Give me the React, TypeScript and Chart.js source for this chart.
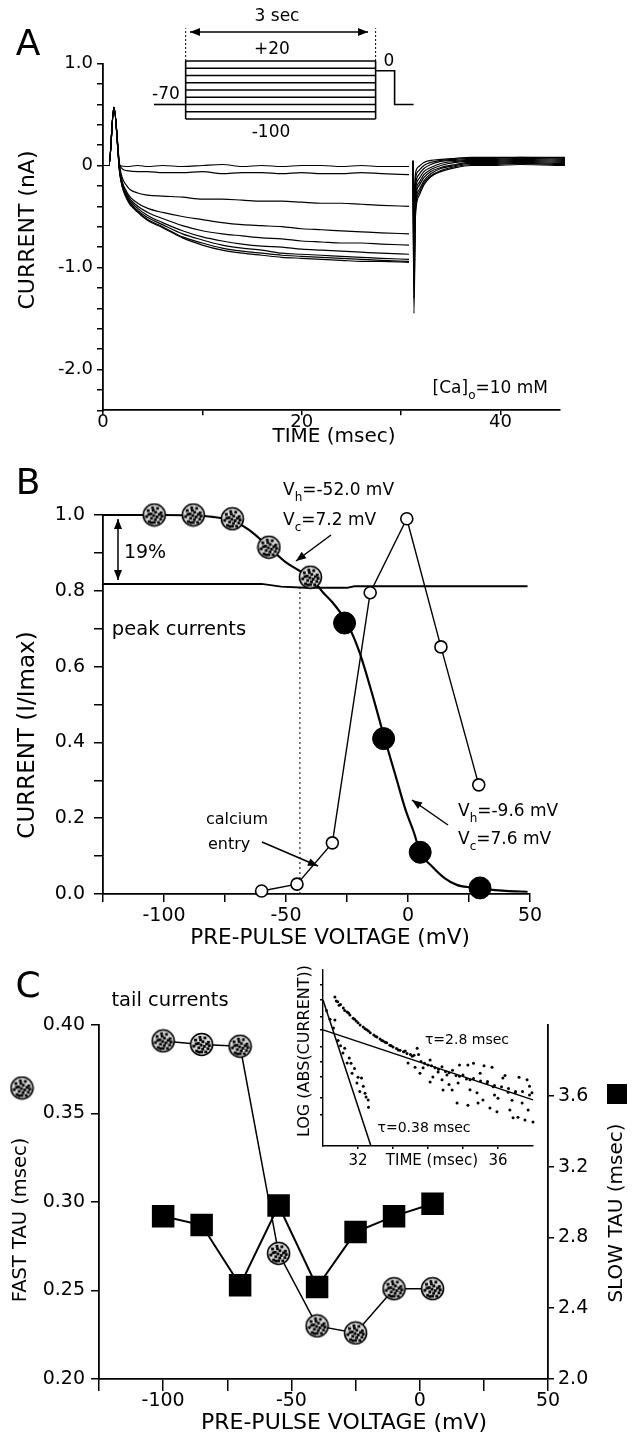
import { useEffect, useRef } from 'react';
import { Chart, registerables } from 'chart.js';
Chart.register(...registerables);

const W = 633;
const H = 1442;
const FONT = "'DejaVu Sans', 'Liberation Sans', sans-serif";
Chart.defaults.font.family = FONT;
Chart.defaults.color = '#000';

// ---------------- Panel A : current traces ----------------
const A_T = [0, 0.6, 1.1, 1.7, 2.4, 3.5, 4.5, 6, 8, 10, 12, 14, 16, 18, 20, 22, 24, 26, 28, 30.8];
const A_TRACES = [
  [0, 0, 0.57, 0.0, -0.01, 0.0, -0.01, 0.0, -0.01, 0.0, 0.01, -0.01, 0.0, -0.01, 0.0, 0.0, -0.01, 0.0, -0.01, -0.01],
  [0, 0, 0.57, 0.0, -0.05, -0.06, -0.06, -0.07, -0.07, -0.06, -0.08, -0.07, -0.07, -0.08, -0.07, -0.08, -0.08, -0.07, -0.08, -0.09],
  [0, 0, 0.57, -0.02, -0.2, -0.27, -0.29, -0.3, -0.31, -0.33, -0.33, -0.34, -0.35, -0.35, -0.36, -0.37, -0.37, -0.38, -0.39, -0.4],
  [0, 0, 0.57, -0.05, -0.26, -0.37, -0.42, -0.46, -0.5, -0.53, -0.56, -0.58, -0.59, -0.6, -0.62, -0.63, -0.64, -0.65, -0.66, -0.67],
  [0, 0, 0.57, -0.06, -0.28, -0.4, -0.46, -0.52, -0.59, -0.64, -0.67, -0.69, -0.71, -0.72, -0.74, -0.75, -0.76, -0.76, -0.77, -0.78],
  [0, 0, 0.57, -0.07, -0.3, -0.42, -0.49, -0.56, -0.64, -0.7, -0.74, -0.77, -0.79, -0.8, -0.82, -0.83, -0.84, -0.85, -0.86, -0.87],
  [0, 0, 0.57, -0.08, -0.31, -0.44, -0.51, -0.58, -0.67, -0.73, -0.78, -0.81, -0.83, -0.86, -0.87, -0.88, -0.89, -0.9, -0.91, -0.92],
  [0, 0, 0.57, -0.08, -0.32, -0.45, -0.53, -0.6, -0.7, -0.76, -0.81, -0.84, -0.86, -0.88, -0.89, -0.9, -0.91, -0.92, -0.93, -0.94],
  [0, 0, 0.57, -0.09, -0.33, -0.46, -0.54, -0.61, -0.71, -0.78, -0.83, -0.86, -0.88, -0.9, -0.91, -0.92, -0.93, -0.94, -0.94, -0.95],
];
const A_TAIL_T = [31.2, 31.3, 31.45, 31.8, 32.3, 33, 34, 35.5, 37, 39, 42, 46.5];
const A_TAILS = [
  [0.05, -0.3, -0.08, -0.01, 0.03, 0.05, 0.06, 0.07, 0.08, 0.08, 0.08, 0.08],
  [0.05, -0.4, -0.13, -0.05, 0.0, 0.03, 0.05, 0.06, 0.07, 0.07, 0.08, 0.07],
  [0.04, -0.55, -0.2, -0.09, -0.03, 0.01, 0.04, 0.05, 0.06, 0.06, 0.07, 0.06],
  [0.04, -0.7, -0.25, -0.13, -0.06, -0.02, 0.02, 0.04, 0.05, 0.05, 0.06, 0.05],
  [0.03, -0.85, -0.3, -0.17, -0.09, -0.04, 0.0, 0.03, 0.04, 0.04, 0.05, 0.04],
  [0.03, -1.0, -0.35, -0.2, -0.12, -0.06, -0.02, 0.01, 0.03, 0.03, 0.04, 0.03],
  [0.02, -1.15, -0.4, -0.24, -0.15, -0.08, -0.03, 0.0, 0.02, 0.02, 0.03, 0.02],
  [0.02, -1.3, -0.45, -0.27, -0.17, -0.1, -0.05, -0.01, 0.01, 0.01, 0.02, 0.01],
  [0.02, -1.45, -0.5, -0.3, -0.19, -0.11, -0.06, -0.02, 0.0, 0.0, 0.01, 0.0],
];
const A_X_TICKS = [0, 10, 20, 30, 40];
const A_X_LABELS = ['0', '', '20', '', '40'];
const A_Y_TICKS = [-2.4, -2.2, -2.0, -1.8, -1.6, -1.4, -1.2, -1.0, -0.8, -0.6, -0.4, -0.2, 0, 0.2, 0.4, 0.6, 0.8, 1.0];
const A_Y_LABELS = ['', '', '-2.0', '', '', '', '', '-1.0', '', '', '', '', '0', '', '', '', '', '1.0'];

// protocol inset (seconds, mV)
const PROTO_LEVELS = [20, 5, -10, -25, -40, -55, -70, -85, -100];
const PROTO_DUR = 3;
const PROTO_PRE_X = [-0.5, 0];
const PROTO_PRE_Y = [-70, -70];
const PROTO_POST_X = [3, 3.3, 3.3, 3.6];
const PROTO_POST_Y = [0, 0, -70, -70];
const PROTO_DASH_Y = [20, 88];

// ---------------- Panel B ----------------
const B_STIP_X = [-104, -88, -72, -57, -40];
const B_STIP_Y = [1.0, 1.0, 0.99, 0.915, 0.836];
const B_FILL_X = [-26, -10, 5, 29.5];
const B_FILL_Y = [0.715, 0.41, 0.11, 0.016];
const B_OPEN_X = [-60, -45.5, -31, -15.5, -0.5, 13.5, 29];
const B_OPEN_Y = [0.008, 0.026, 0.135, 0.795, 0.99, 0.652, 0.288];
const B_FIT_X = [-125, -100, -90, -80, -72, -65, -57, -50, -45, -40, -35, -30, -25, -20, -15, -10, -5, -1, 2.5, 5, 10, 15, 20, 26, 32, 40, 49];
const B_FIT_Y = [1.0, 1.0, 0.999, 0.995, 0.985, 0.96, 0.915, 0.875, 0.855, 0.836, 0.797, 0.762, 0.715, 0.64, 0.535, 0.42, 0.31, 0.222, 0.161, 0.11, 0.072, 0.042, 0.024, 0.017, 0.012, 0.008, 0.006];
const B_FLAT_X = [-125, -60, -52, -42, -25, -22, 49];
const B_FLAT_Y = [0.818, 0.818, 0.811, 0.808, 0.808, 0.812, 0.812];
const B_DOT_X = [-44.3, -44.3];
const B_DOT_Y = [0, 0.815];
const B_X_TICKS = [-125, -100, -75, -50, -25, 0, 25, 50];
const B_X_LABELS = ['', '-100', '', '-50', '', '0', '', '50'];
const B_Y_TICKS = [0, 0.1, 0.2, 0.3, 0.4, 0.5, 0.6, 0.7, 0.8, 0.9, 1.0];
const B_Y_LABELS = ['0.0', '', '0.2', '', '0.4', '', '0.6', '', '0.8', '', '1.0'];

// ---------------- Panel C ----------------
const C_V = [-100, -85, -70, -55, -40, -25, -10, 5];
const C_FAST = [0.391, 0.389, 0.388, 0.271, 0.23, 0.226, 0.251, 0.251];
const C_SLOW = [2.92, 2.87, 2.53, 2.98, 2.52, 2.83, 2.92, 2.99];
const C_YL_TICKS = [0.2, 0.25, 0.3, 0.35, 0.4];
const C_YL_LABELS = ['0.20', '0.25', '0.30', '0.35', '0.40'];
const C_YR_TICKS = [2.0, 2.4, 2.8, 3.2, 3.6];
const C_YR_LABELS = ['2.0', '2.4', '2.8', '3.2', '3.6'];

// inset (msec, log units)
const IN_FAST_X = [31.0, 32.37];
const IN_FAST_Y = [4.15, 0];
const IN_SLOW_X = [31.0, 37.0];
const IN_SLOW_Y = [3.3, 1.31];
const IN_PT_T = [
  31.34, 31.42, 31.5, 31.58, 31.69, 31.77, 31.86, 31.95, 32.06, 32.15, 32.25, 32.35, 32.45, 32.54, 32.63, 32.72, 32.82, 32.91, 33.0, 33.1, 33.2, 33.3, 33.4, 33.5, 33.6, 33.69, 33.73,
  31.38, 31.46, 31.62, 31.73, 31.9, 32.0, 32.2, 32.3, 32.5, 32.68, 32.78, 32.95, 33.15, 33.35, 33.55,
  33.8, 33.9, 34.0, 34.1, 34.2, 34.3, 34.4, 34.5, 34.6, 34.7, 34.8, 34.9, 35.0, 35.1, 35.3, 35.5, 35.7, 35.9, 36.1, 36.3, 36.5, 36.7, 36.9,
  33.43, 33.63, 33.86, 34.06, 34.14, 34.29, 34.4, 34.54, 34.69, 34.86, 35.14, 35.2, 35.4, 35.49, 35.57, 35.69, 35.83, 35.86, 36.0, 36.14, 36.29, 36.34, 36.49, 36.57, 36.69, 36.83, 36.86, 36.97, 37.0,
  34.83, 35.14, 35.43, 35.77, 35.97, 34.06, 34.43, 33.77, 36.77, 36.43, 35.3, 35.6, 36.2, 36.6, 34.9, 36.9, 36.4, 35.9, 35.2, 34.6,
  31.1, 31.2, 31.3, 31.43, 31.5, 31.57, 31.62, 31.69, 31.75, 31.83, 31.9, 31.97, 32.0, 32.1, 32.15, 32.2, 32.23, 32.29, 32.3, 32.05, 31.34, 31.8,
];
const IN_PT_Y = [
  4.23, 4.1, 4.02, 3.92, 3.81, 3.72, 3.63, 3.55, 3.44, 3.38, 3.3, 3.22, 3.15, 3.1, 3.04, 2.98, 2.93, 2.86, 2.81, 2.77, 2.72, 2.68, 2.63, 2.6, 2.58, 2.78, 2.6,
  4.12, 4.0, 3.85, 3.78, 3.6, 3.5, 3.33, 3.27, 3.12, 3.0, 2.95, 2.85, 2.73, 2.7, 2.55,
  2.4, 2.35, 2.3, 2.28, 2.22, 2.18, 2.25, 2.12, 2.08, 2.15, 2.0, 1.98, 2.02, 1.9, 1.92, 1.85, 1.83, 1.72, 1.68, 1.63, 1.55, 1.55, 1.45,
  2.36, 2.24, 2.22, 2.44, 1.96, 2.1, 1.88, 2.02, 1.59, 1.79, 2.3, 1.88, 1.51, 2.07, 1.31, 1.79, 2.24, 1.68, 1.36, 1.93, 1.53, 1.02, 1.51, 0.82, 1.22, 1.88, 1.02, 1.51, 0.68,
  1.22, 1.16, 1.22, 1.08, 0.97, 1.82, 1.59, 2.07, 0.74, 0.8, 2.35, 2.28, 2.0, 1.95, 2.3, 1.7, 1.3, 1.45, 1.6, 1.75,
  3.85, 3.6, 3.35, 3.0, 2.85, 2.64, 2.78, 2.36, 2.5, 2.07, 2.2, 1.79, 1.95, 1.93, 1.7, 1.5, 1.39, 1.31, 1.1, 1.55, 3.58, 2.35,
];
const IN_X_TICKS = [32, 33, 34, 35, 36];
const IN_X_LABELS = ['32', '', '', '', '36'];
const IN_Y_TICKS = [0.88, 1.36, 1.96, 2.39, 2.81, 3.3, 3.66, 4.15, 4.57];

// ---------------- annotations (page coordinates) ----------------
type Part = [string, boolean?];
type TextItem = { parts: Part[]; x: number; y: number; size: number; align?: 'left' | 'center' | 'right'; rot?: boolean };
type Arrow = { x1: number; y1: number; x2: number; y2: number; start?: boolean; end?: boolean };

const TEXT_A: TextItem[] = [
  { parts: [['A']], x: 28, y: 46, size: 36 },
  { parts: [['3 sec']], x: 277, y: 17, size: 17 },
  { parts: [['+20']], x: 272, y: 50, size: 17 },
  { parts: [['-100']], x: 271, y: 133, size: 17 },
  { parts: [['-70']], x: 166, y: 95, size: 17 },
  { parts: [['0']], x: 389, y: 62, size: 17 },
  { parts: [['[Ca]'], ['o', true], ['=10 mM']], x: 548, y: 389, size: 17, align: 'right' },
  { parts: [['CURRENT (nA)']], x: 28, y: 230, size: 22, rot: true },
  { parts: [['TIME (msec)']], x: 334, y: 437, size: 20 },
];
const ARROWS_A: Arrow[] = [{ x1: 190, y1: 32, x2: 368, y2: 32, start: true, end: true }];

const TEXT_B: TextItem[] = [
  { parts: [['B']], x: 28, y: 485, size: 36 },
  { parts: [['19%']], x: 145, y: 553, size: 19 },
  { parts: [['V'], ['h', true], ['=-52.0 mV']], x: 283, y: 491, size: 17, align: 'left' },
  { parts: [['V'], ['c', true], ['=7.2 mV']], x: 283, y: 521, size: 17, align: 'left' },
  { parts: [['peak currents']], x: 179, y: 630, size: 19.5 },
  { parts: [['calcium']], x: 206, y: 820, size: 16, align: 'left' },
  { parts: [['entry']], x: 208, y: 845, size: 16, align: 'left' },
  { parts: [['V'], ['h', true], ['=-9.6 mV']], x: 458, y: 812, size: 17, align: 'left' },
  { parts: [['V'], ['c', true], ['=7.6 mV']], x: 458, y: 840, size: 17, align: 'left' },
  { parts: [['CURRENT (I/Imax)']], x: 28, y: 735, size: 23, rot: true },
  { parts: [['PRE-PULSE VOLTAGE (mV)']], x: 330, y: 938, size: 21.5 },
];
const ARROWS_B: Arrow[] = [
  { x1: 118, y1: 519, x2: 118, y2: 580, start: true, end: true },
  { x1: 331, y1: 535, x2: 296, y2: 561, end: true },
  { x1: 262, y1: 842, x2: 318, y2: 866, end: true },
  { x1: 448, y1: 825, x2: 412, y2: 800, end: true },
];

const TEXT_C: TextItem[] = [
  { parts: [['C']], x: 28, y: 988, size: 36 },
  { parts: [['tail currents']], x: 170, y: 1001, size: 19.5 },
  { parts: [['FAST TAU (msec)']], x: 21, y: 1220, size: 19.5, rot: true },
  { parts: [['SLOW TAU (msec)']], x: 617, y: 1213, size: 20, rot: true },
  { parts: [['PRE-PULSE VOLTAGE (mV)']], x: 344, y: 1423, size: 22 },
  { parts: [['τ=2.8 msec']], x: 467, y: 1040, size: 14 },
  { parts: [['τ=0.38 msec']], x: 424, y: 1128, size: 14 },
  { parts: [['LOG (ABS(CURRENT))']], x: 305, y: 1051, size: 16, rot: true },
  { parts: [['TIME (msec)']], x: 432, y: 1161, size: 15 },
];

// ---------------- helpers ----------------
const STIPPLE_DOTS: [number, number][] = [
  [-0.55, -0.4], [-0.15, -0.65], [0.3, -0.6], [0.62, -0.2], [-0.3, -0.1], [0.12, -0.25],
  [-0.7, 0.15], [-0.25, 0.3], [0.25, 0.18], [0.58, 0.38], [0.0, 0.68], [-0.45, 0.6], [0.38, 0.68],
  [-0.05, 0.05], [0.45, -0.05], [-0.5, -0.05], [0.1, 0.42], [-0.1, -0.42], [0.7, 0.1], [-0.25, 0.7],
];
function makeStipple(r: number) {
  const c = document.createElement('canvas');
  const s = Math.ceil(r * 2 + 3);
  c.width = s;
  c.height = s;
  const g = c.getContext('2d')!;
  const cx = s / 2;
  g.beginPath();
  g.arc(cx, cx, r, 0, Math.PI * 2);
  g.fillStyle = '#d8d8d8';
  g.fill();
  g.lineWidth = 1.6;
  g.strokeStyle = '#000';
  g.stroke();
  g.fillStyle = '#000';
  for (const [dx, dy] of STIPPLE_DOTS) g.fillRect(cx + dx * r - 1.4, cx + dy * r - 1.4, 2.8, 2.8);
  return c;
}

function drawText(ctx: CanvasRenderingContext2D, t: TextItem) {
  const main = `${t.size}px ${FONT}`;
  const sub = `${Math.round(t.size * 0.72)}px ${FONT}`;
  ctx.save();
  ctx.translate(t.x, t.y);
  if (t.rot) ctx.rotate(-Math.PI / 2);
  ctx.textBaseline = 'middle';
  ctx.textAlign = 'left';
  ctx.fillStyle = '#000';
  let total = 0;
  const ws = t.parts.map(([s, isSub]) => {
    ctx.font = isSub ? sub : main;
    const w = ctx.measureText(s).width;
    total += w;
    return w;
  });
  let x = t.align === 'left' ? 0 : t.align === 'right' ? -total : -total / 2;
  t.parts.forEach(([s, isSub], i) => {
    ctx.font = isSub ? sub : main;
    ctx.fillText(s, x, isSub ? t.size * 0.38 : 0);
    x += ws[i];
  });
  ctx.restore();
}

function drawArrow(ctx: CanvasRenderingContext2D, a: Arrow) {
  ctx.save();
  ctx.strokeStyle = '#000';
  ctx.fillStyle = '#000';
  ctx.lineWidth = 1.5;
  ctx.beginPath();
  ctx.moveTo(a.x1, a.y1);
  ctx.lineTo(a.x2, a.y2);
  ctx.stroke();
  const head = (xa: number, ya: number, xb: number, yb: number) => {
    const ang = Math.atan2(yb - ya, xb - xa);
    const L = 10;
    const Wd = 4;
    ctx.beginPath();
    ctx.moveTo(xb, yb);
    ctx.lineTo(xb - L * Math.cos(ang) + Wd * Math.sin(ang), yb - L * Math.sin(ang) - Wd * Math.cos(ang));
    ctx.lineTo(xb - L * Math.cos(ang) - Wd * Math.sin(ang), yb - L * Math.sin(ang) + Wd * Math.cos(ang));
    ctx.closePath();
    ctx.fill();
  };
  if (a.end) head(a.x1, a.y1, a.x2, a.y2);
  if (a.start) head(a.x2, a.y2, a.x1, a.y1);
  ctx.restore();
}

function annotPlugin(id: string, texts: TextItem[], arrows: Arrow[], extra?: (ctx: CanvasRenderingContext2D) => void) {
  return {
    id,
    afterDraw(chart: any) {
      const ctx = chart.ctx as CanvasRenderingContext2D;
      arrows.forEach((a) => drawArrow(ctx, a));
      texts.forEach((t) => drawText(ctx, t));
      if (extra) extra(ctx);
    },
  };
}

function xy(xs: number[], ys: number[]) {
  return xs.map((x, i) => ({ x, y: ys[i] }));
}

type AxisOpt = {
  min: number; max: number; ticks: number[]; labels: string[]; size: number;
  tickLen: number; pad: number; font: number; position: string; bw?: number;
};
function axis(o: AxisOpt) {
  return {
    type: 'linear',
    position: o.position,
    min: o.min,
    max: o.max,
    afterBuildTicks: (scale: any) => {
      scale.ticks = o.ticks.map((v) => ({ value: v }));
    },
    afterFit: (scale: any) => {
      if (scale.isHorizontal()) scale.height = o.size;
      else scale.width = o.size;
    },
    border: { display: true, color: '#000', width: o.bw ?? 1.8 },
    grid: { display: true, drawOnChartArea: false, drawTicks: true, tickLength: o.tickLen, color: '#000', lineWidth: 1.5 },
    ticks: {
      autoSkip: false,
      padding: o.pad,
      color: '#000',
      maxRotation: 0,
      minRotation: 0,
      font: { family: FONT, size: o.font, lineHeight: 1.2 },
      callback: (_v: any, i: number) => o.labels[i] ?? '',
    },
  };
}

function base(pad: { left: number; top: number; right: number; bottom: number }) {
  return {
    responsive: false,
    animation: false,
    events: [],
    layout: { padding: pad },
    plugins: { legend: { display: false }, tooltip: { enabled: false }, title: { display: false } },
  };
}

const lineDs = (data: any[], extra: any = {}) => ({
  data,
  borderColor: '#000',
  borderWidth: 1.5,
  pointRadius: 0,
  clip: false,
  ...extra,
});

// ---------------- chart configs ----------------
function cfgProtocol(): any {
  const datasets: any[] = [
    ...PROTO_LEVELS.map((L) => lineDs([{ x: 0, y: L }, { x: PROTO_DUR, y: L }], { borderWidth: 1.6 })),
    lineDs([{ x: 0, y: PROTO_LEVELS[PROTO_LEVELS.length - 1] }, { x: 0, y: PROTO_LEVELS[0] }], { borderWidth: 1.6 }),
    lineDs([{ x: PROTO_DUR, y: PROTO_LEVELS[PROTO_LEVELS.length - 1] }, { x: PROTO_DUR, y: PROTO_LEVELS[0] }], { borderWidth: 1.6 }),
    lineDs(xy(PROTO_PRE_X, PROTO_PRE_Y), { borderWidth: 1.6 }),
    lineDs(xy(PROTO_POST_X, PROTO_POST_Y), { borderWidth: 1.6 }),
    lineDs(xy([0, 0], PROTO_DASH_Y), { borderWidth: 1, borderDash: [2, 2] }),
    lineDs(xy([PROTO_DUR, PROTO_DUR], PROTO_DASH_Y), { borderWidth: 1, borderDash: [2, 2] }),
  ];
  return {
    type: 'line',
    data: { datasets },
    options: {
      ...base({ left: 154, top: 27.2, right: 219.4, bottom: 1323 }),
      scales: {
        x: { type: 'linear', display: false, min: -0.5, max: 3.6 },
        y: { type: 'linear', display: false, min: -100, max: 90 },
      },
    },
    plugins: [annotPlugin('annotA', TEXT_A, ARROWS_A)],
  };
}

function cfgA(): any {
  const datasets = A_TRACES.map((tr, i) =>
    lineDs(
      [
        ...A_T.map((t, j) => ({ x: t, y: tr[j] })),
        { x: 31.0, y: null },
        ...A_TAIL_T.map((t, j) => ({ x: t, y: A_TAILS[i][j] })),
      ],
      { borderWidth: 1.2, cubicInterpolationMode: 'monotone', spanGaps: false },
    ),
  );
  return {
    type: 'line',
    data: { datasets },
    options: {
      ...base({ left: 0, top: 63.5, right: 73, bottom: 1442 - 410.3 - 30 }),
      scales: {
        x: axis({ min: 0, max: 46, ticks: A_X_TICKS, labels: A_X_LABELS, size: 30, tickLen: 5, pad: -4, font: 18, position: 'bottom' }),
        y: axis({ min: -2.4, max: 1.0, ticks: A_Y_TICKS, labels: A_Y_LABELS, size: 103, tickLen: 6, pad: 4, font: 18, position: 'left' }),
      },
    },
  };
}

function cfgB(stip: HTMLCanvasElement): any {
  const datasets: any[] = [
    { data: xy(B_STIP_X, B_STIP_Y), showLine: false, pointStyle: stip, pointRadius: 11, clip: false },
    { data: xy(B_FILL_X, B_FILL_Y), showLine: false, pointStyle: 'circle', pointRadius: 11, pointBackgroundColor: '#000', pointBorderColor: '#000', clip: false },
    lineDs(xy(B_OPEN_X, B_OPEN_Y), { borderWidth: 1.4, pointRadius: 6, pointBackgroundColor: '#fff', pointBorderColor: '#000', pointBorderWidth: 1.6 }),
    lineDs(xy(B_FIT_X, B_FIT_Y), { borderWidth: 2.2, cubicInterpolationMode: 'monotone' }),
    lineDs(xy(B_FLAT_X, B_FLAT_Y), { borderWidth: 1.8 }),
    lineDs(xy(B_DOT_X, B_DOT_Y), { borderWidth: 1, borderDash: [2, 3] }),
  ];
  return {
    type: 'line',
    data: { datasets },
    options: {
      ...base({ left: 0, top: 515, right: 103, bottom: 1442 - 894 - 30 }),
      scales: {
        x: axis({ min: -125, max: 50, ticks: B_X_TICKS, labels: B_X_LABELS, size: 30, tickLen: 8, pad: 3, font: 19, position: 'bottom' }),
        y: axis({ min: 0, max: 1, ticks: B_Y_TICKS, labels: B_Y_LABELS, size: 103, tickLen: 9, pad: 9, font: 19, position: 'left' }),
      },
    },
    plugins: [annotPlugin('annotB', TEXT_B, ARROWS_B)],
  };
}

function cfgC(stip: HTMLCanvasElement): any {
  const datasets: any[] = [
    lineDs(xy(C_V, C_SLOW), { yAxisID: 'yR', borderWidth: 2, pointStyle: 'rect', pointRadius: 14.5, pointBackgroundColor: '#000', pointBorderColor: '#000' }),
    lineDs(xy(C_V, C_FAST), { yAxisID: 'yL', borderWidth: 1.5, pointStyle: stip, pointRadius: 11 }),
  ];
  const extra = (ctx: CanvasRenderingContext2D) => {
    ctx.drawImage(stip, 22 - stip.width / 2, 1088 - stip.height / 2);
    ctx.fillStyle = '#000';
    ctx.fillRect(607, 1084, 20, 20);
  };
  return {
    type: 'line',
    data: { datasets },
    options: {
      ...base({ left: 0, top: 1025, right: 35, bottom: 1442 - 1379 - 30 }),
      scales: {
        x: axis({ min: -125, max: 50, ticks: B_X_TICKS, labels: B_X_LABELS, size: 30, tickLen: 12, pad: -1, font: 19, position: 'bottom' }),
        yL: axis({ min: 0.2, max: 0.4, ticks: C_YL_TICKS, labels: C_YL_LABELS, size: 99, tickLen: 8, pad: 6, font: 19, position: 'left' }),
        yR: axis({ min: 2.0, max: 4.0, ticks: C_YR_TICKS, labels: C_YR_LABELS, size: 50, tickLen: 6, pad: 4, font: 19, position: 'right' }),
      },
    },
    plugins: [annotPlugin('annotC', TEXT_C, [], extra)],
  };
}

function cfgInset(): any {
  const datasets: any[] = [
    { data: xy(IN_PT_T, IN_PT_Y), showLine: false, pointRadius: 1.5, pointBackgroundColor: '#000', pointBorderColor: '#000', pointBorderWidth: 0, clip: false },
    lineDs(xy(IN_FAST_X, IN_FAST_Y), { borderWidth: 1.5 }),
    lineDs(xy(IN_SLOW_X, IN_SLOW_Y), { borderWidth: 1.5 }),
  ];
  return {
    type: 'line',
    data: { datasets },
    options: {
      ...base({ left: 0, top: 970, right: 100, bottom: 1442 - 1146 - 25 }),
      scales: {
        x: axis({ min: 31, max: 37, ticks: IN_X_TICKS, labels: IN_X_LABELS, size: 25, tickLen: 3, pad: 3, font: 15, position: 'bottom', bw: 1.4 }),
        y: axis({ min: 0, max: 5, ticks: IN_Y_TICKS, labels: [], size: 323, tickLen: 3, pad: 0, font: 10, position: 'left', bw: 1.4 }),
      },
    },
  };
}

export default function App() {
  const refs = useRef<(HTMLCanvasElement | null)[]>([]);
  useEffect(() => {
    const stip = makeStipple(11);
    const cfgs = [cfgProtocol(), cfgA(), cfgB(stip), cfgC(stip), cfgInset()];
    const charts: Chart[] = [];
    cfgs.forEach((cfg, i) => {
      const c = refs.current[i];
      if (c) charts.push(new Chart(c, cfg));
    });
    return () => charts.forEach((c) => c.destroy());
  }, []);
  return (
    <div style={{ position: 'absolute', left: 0, top: 0, width: W, height: H, background: '#fff', overflow: 'hidden' }}>
      {[0, 1, 2, 3, 4].map((i) => (
        <canvas
          key={i}
          ref={(el) => {
            refs.current[i] = el;
          }}
          width={W}
          height={H}
          style={{ position: 'absolute', left: 0, top: 0, width: W, height: H }}
        />
      ))}
    </div>
  );
}
